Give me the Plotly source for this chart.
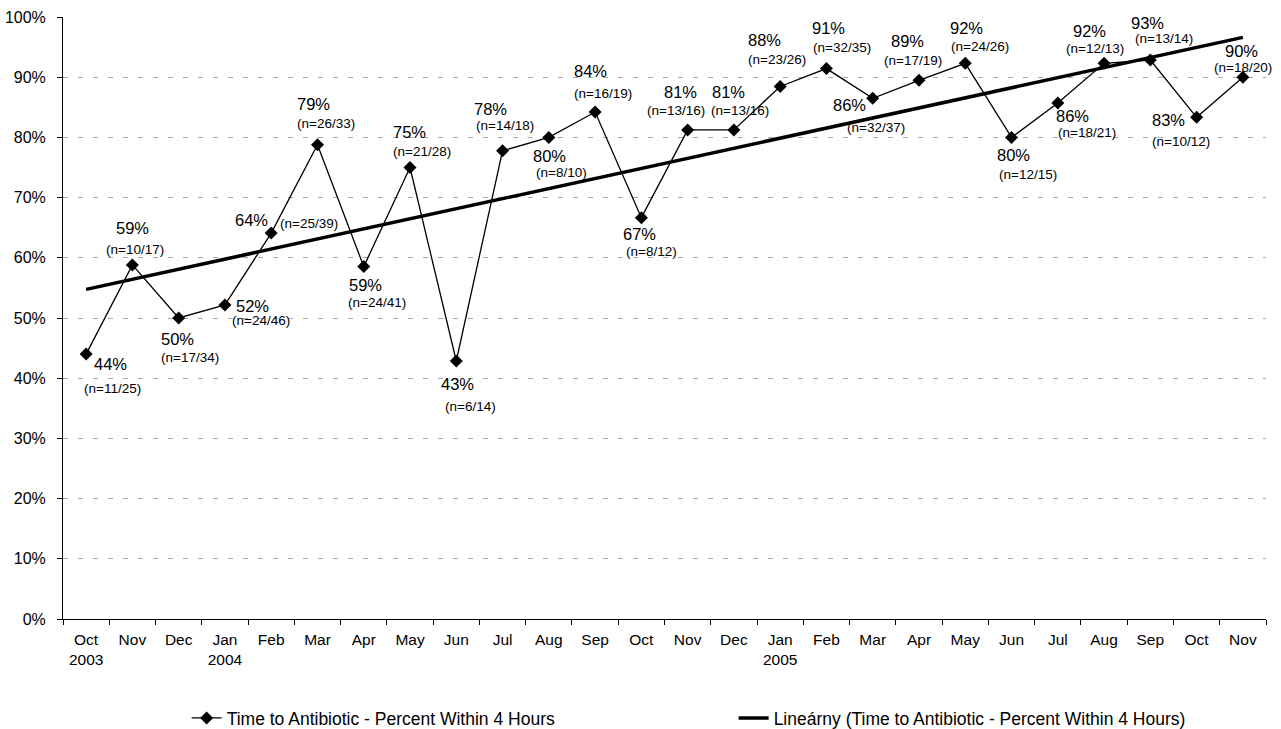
import numpy as np
import plotly.graph_objects as go

# Monthly compliance: cases given antibiotic within 4 hours / all cases
months = ["Oct<br>2003", "Nov", "Dec", "Jan<br>2004", "Feb", "Mar", "Apr", "May", "Jun",
          "Jul", "Aug", "Sep", "Oct", "Nov", "Dec", "Jan<br>2005", "Feb", "Mar", "Apr",
          "May", "Jun", "Jul", "Aug", "Sep", "Oct", "Nov"]
within_4h = [11, 10, 17, 24, 25, 26, 24, 21, 6, 14, 8, 16, 8, 13, 13, 23, 32, 32, 17,
             24, 12, 18, 12, 13, 10, 18]
total_cases = [25, 17, 34, 46, 39, 33, 41, 28, 14, 18, 10, 19, 12, 16, 16, 26, 35, 37, 19,
               26, 15, 21, 13, 14, 12, 20]

y_ticks = [i / 10 for i in range(11)]

# Label placement around each point: (dx, dy) in screen px for the percent and the n-count
pct_offsets = [(24, 10), (0, -37), (-1, 21), (28, 1), (-20, -13), (-4, -41), (2, 18),
               (-1, -36), (1, 23), (-12, -42), (1, 19), (-5, -41), (-2, 16), (-7, -38),
               (-5, -38), (-16, -46), (2, -41), (-23, 7), (-11, -39), (1, -35), (2, 18),
               (15, 13), (-15, -32), (-3, -37), (-28, 3), (-1, -26)]
n_offsets = [(26, 34), (3, -15), (11, 39), (36, 16), (38, -10), (9, -21), (13, 36),
             (12, -16), (14, 45), (2, -25), (13, 35), (8, -19), (10, 34), (-12, -19),
             (6, -19), (-3, -27), (16, -21), (3, 29), (-6, -20), (15, -17), (16, 37),
             (29, 29), (-9, -15), (14, -22), (-16, 24), (0, -10)]

FONT = "Liberation Sans, Arial, sans-serif"
SERIES = "Time to Antibiotic - Percent Within 4 Hours"

x = np.arange(len(months))
pct = np.array(within_4h) / np.array(total_cases)

# Least-squares linear trend over the monthly percentages
slope, intercept = np.polyfit(x, pct, 1)
trend = slope * x + intercept

fig = go.Figure()
fig.add_trace(go.Scatter(
    x=x, y=pct, mode="lines+markers", name=SERIES,
    line=dict(color="black", width=1.3),
    marker=dict(symbol="diamond", size=10, color="black"),
))
fig.add_trace(go.Scatter(
    x=[x[0], x[-1]], y=[trend[0], trend[-1]], mode="lines",
    name=f"Lineárny ({SERIES})",
    line=dict(color="black", width=3.5),
))

annotations = []
for i, p in enumerate(pct):
    pdx, pdy = pct_offsets[i]
    ndx, ndy = n_offsets[i]
    annotations.append(dict(
        x=x[i], y=p, xref="x", yref="y", text=f"{round(p * 100):.0f}%",
        showarrow=False, xshift=pdx, yshift=-pdy,
        font=dict(family=FONT, size=16.5, color="black"),
    ))
    annotations.append(dict(
        x=x[i], y=p, xref="x", yref="y", text=f"(n={within_4h[i]}/{total_cases[i]})",
        showarrow=False, xshift=ndx, yshift=-ndy,
        font=dict(family=FONT, size=13.5, color="black"),
    ))

fig.update_layout(
    width=1281, height=729,
    margin=dict(l=63, r=15, t=17, b=110),
    paper_bgcolor="white", plot_bgcolor="white",
    font=dict(family=FONT, color="black"),
    showlegend=True,
    legend=dict(
        orientation="h",
        xref="container", x=0.1457, xanchor="left",
        yref="container", y=0.015, yanchor="middle",
        entrywidth=502, entrywidthmode="pixels",
        font=dict(family=FONT, size=17.5, color="black"),
        bgcolor="rgba(0,0,0,0)", itemclick=False,
    ),
    annotations=annotations,
)

fig.update_xaxes(
    range=[-0.5, len(months) - 0.5],
    tickvals=list(x), ticktext=months,
    ticks="", showgrid=False, zeroline=False,
    showline=True, linecolor="black", linewidth=1,
    ticklabelstandoff=6, automargin=False,
    tickfont=dict(family=FONT, size=15.5, color="black"),
    minor=dict(tickvals=[i - 0.5 for i in range(len(months) + 1)],
               ticks="outside", ticklen=5, tickcolor="black", tickwidth=1, showgrid=False),
)
fig.update_yaxes(
    range=[0, 1], tickvals=y_ticks, tickformat=".0%",
    ticks="outside", ticklen=5, tickcolor="black",
    showline=True, linecolor="black", linewidth=1,
    showgrid=True, gridcolor="#a6a6a6", gridwidth=1, griddash="5px,10px",
    zeroline=False, ticklabelstandoff=8, automargin=False,
    tickfont=dict(family=FONT, size=16, color="black"),
)

fig.write_html("out.html")
